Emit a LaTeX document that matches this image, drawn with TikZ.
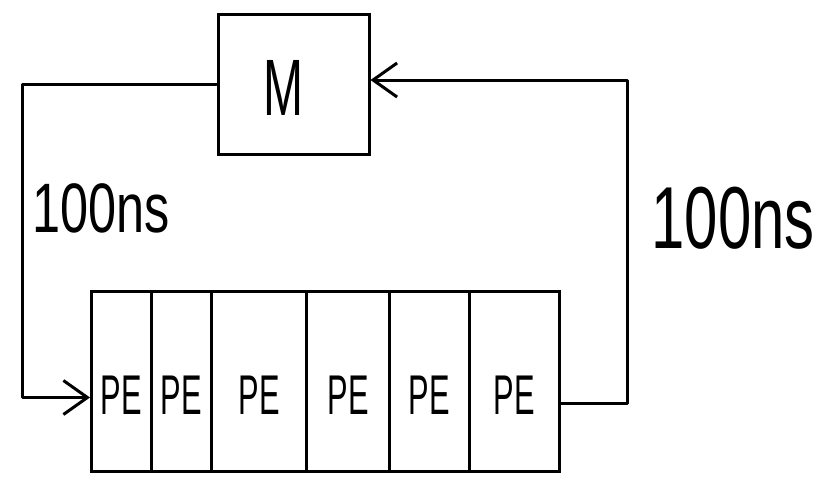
\documentclass[tikz,border=0pt]{standalone}
\usepackage{fontspec}
\setmainfont{Liberation Sans}
\usetikzlibrary{arrows.meta}
\begin{document}
\begin{tikzpicture}[x=1pt,y=-1pt,
  ln/.style={line width=3pt,line join=round,line cap=round},
  arr/.style={ln,-{Straight Barb[length=24pt,width=34pt,line width=3pt]}},
  cell/.style={draw,line width=3pt,minimum height=180pt,inner sep=0pt,anchor=north west},
  lbl/.style={inner sep=0pt}]
\useasboundingbox (0,0) rectangle (833,477);
% memory box
\node[draw,line width=3pt,minimum width=151pt,minimum height=140pt,inner sep=0pt] (M) at (293.5,84) {};
\node[lbl] (Mt) at (283,88) {\fontsize{80}{80}\selectfont\scalebox{0.6}[1]{M}};
% PE cells
\node[cell,minimum width=60pt] (c1) at (90,290) {};
\node[cell,minimum width=60pt] (c2) at (150,290) {};
\node[cell,minimum width=95pt] (c3) at (210,290) {};
\node[cell,minimum width=83pt] (c4) at (305,290) {};
\node[cell,minimum width=80pt] (c5) at (388,290) {};
\node[cell,minimum width=90pt] (c6) at (468,290) {};
\foreach \i in {1,...,6}{
  \node[lbl] (p\i) at ([yshift=-14pt]c\i.center) {\fontsize{56}{56}\selectfont\scalebox{0.55}[1]{PE}};
}
% connectors
\coordinate (lc) at (22,84);
\coordinate (rc) at (627,80);
\draw[arr] (M.west) -- (lc) |- ([yshift=-16pt]c1.west);
\draw[arr] ([yshift=-22pt]c6.east) -| (rc) -- ([yshift=4pt]M.east);
% labels
\node[lbl] (l1) at (101,208) {\fontsize{70}{70}\selectfont\scalebox{0.72}[1]{100ns}};
\node[lbl] (l2) at (733,218) {\fontsize{88}{88}\selectfont\scalebox{0.68}[1]{100ns}};
\end{tikzpicture}
\end{document}
